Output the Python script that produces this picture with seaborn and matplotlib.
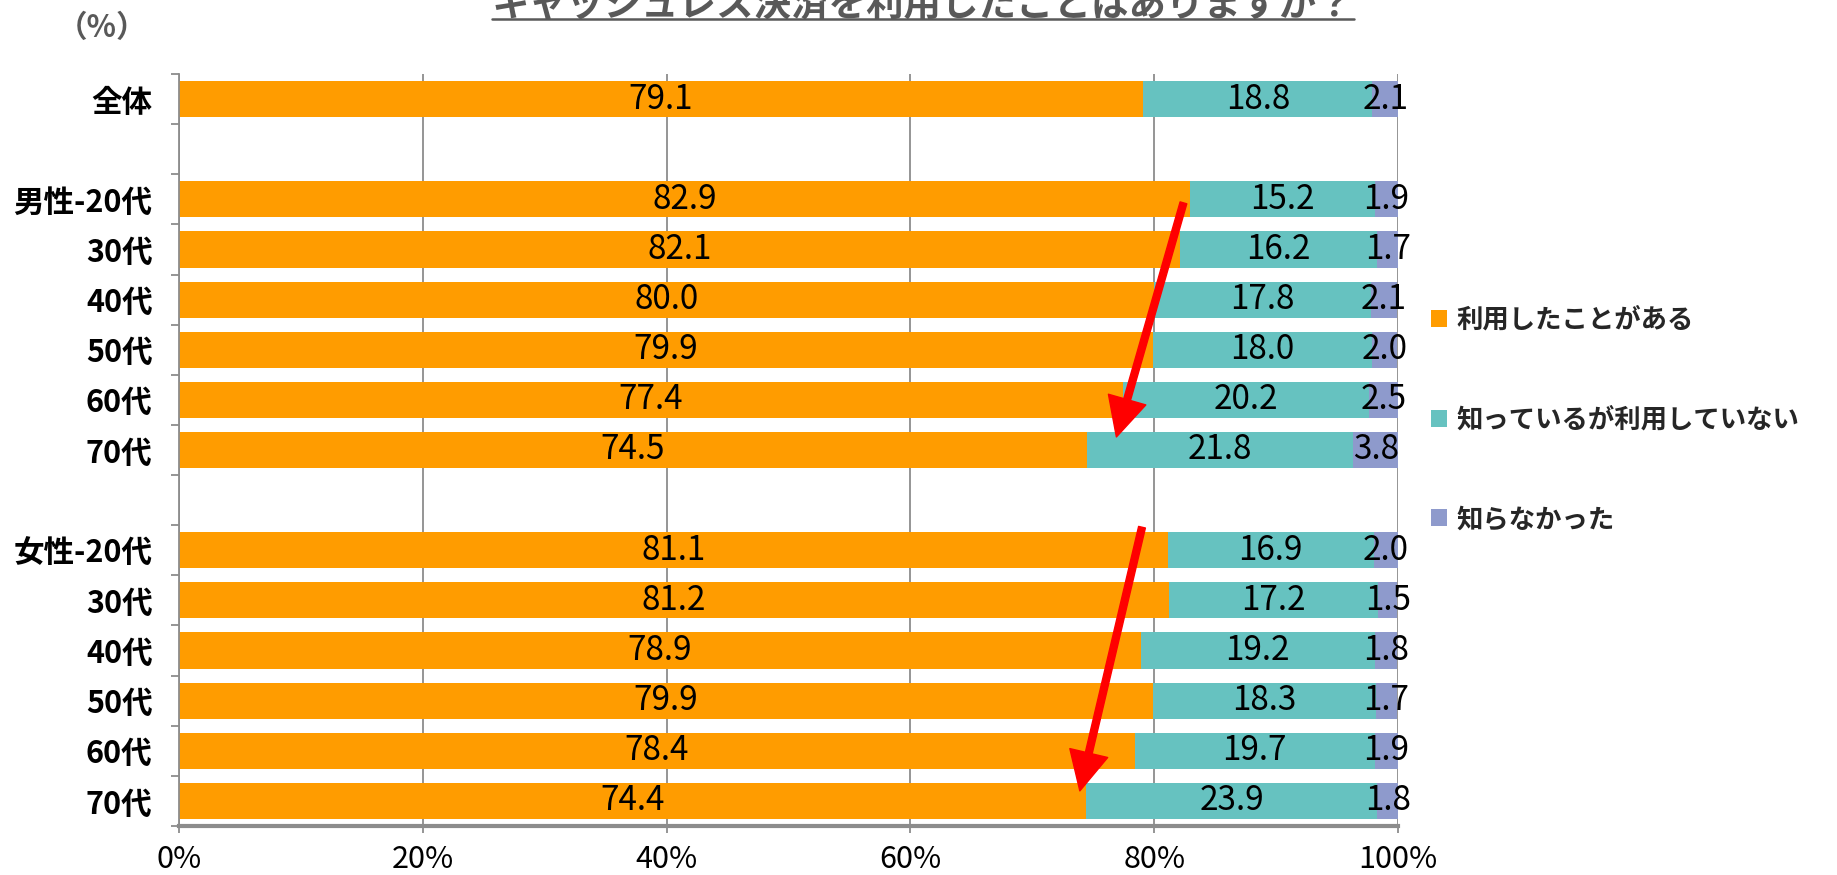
import matplotlib
matplotlib.use('Agg')
import matplotlib.pyplot as plt
import seaborn as sns
import pandas as pd
import numpy as np
from matplotlib.patches import Patch
from matplotlib.lines import Line2D

nan = np.nan
row_ids = ['all', 'gap1', 'm20', 'm30', 'm40', 'm50', 'm60', 'm70', 'gap2',
           'f20', 'f30', 'f40', 'f50', 'f60', 'f70']
row_labels = ['全体', '', '男性-20代', '30代', '40代', '50代', '60代', '70代', '',
              '女性-20代', '30代', '40代', '50代', '60代', '70代']
used = [79.1, nan, 82.9, 82.1, 80.0, 79.9, 77.4, 74.5, nan, 81.1, 81.2, 78.9, 79.9, 78.4, 74.4]
aware = [18.8, nan, 15.2, 16.2, 17.8, 18.0, 20.2, 21.8, nan, 16.9, 17.2, 19.2, 18.3, 19.7, 23.9]
unaware = [2.1, nan, 1.9, 1.7, 2.1, 2.0, 2.5, 3.8, nan, 2.0, 1.5, 1.8, 1.7, 1.9, 1.8]
series_names = ['利用したことがある', '知っているが利用していない', '知らなかった']
title_text = 'キャッシュレス決済を利用したことはありますか？'
unit_text = '（%）'
xtick_vals = [0, 20, 40, 60, 80, 100]
# annotation arrows: (start, tip) in data coords (x = %, y = row index)
arrow_specs = [((82.4, 2.07), (76.9, 6.74)), ((79.0, 8.54), (73.9, 13.8))]

colors = ['#FF9C00', '#66C2C0', '#8E9ACC']
GRAY = '#595959'
LINE = '#8C8C8C'

sns.set_theme(style='white')
NARROW = ['Liberation Sans Narrow', 'Noto Sans CJK JP', 'DejaVu Sans']
CJK = ['Noto Sans CJK JP', 'DejaVu Sans']
plt.rcParams['font.family'] = CJK

df = pd.DataFrame({'row': row_ids, 'used': used, 'aware': aware, 'unaware': unaware})
df['c1'] = df['used']
df['c2'] = df['used'] + df['aware']
df['c3'] = df['used'] + df['aware'] + df['unaware']

fig = plt.figure(figsize=(18.37, 8.75), dpi=100)
W, H = 1837, 875
ax = fig.add_axes([179 / W, 1 - 826 / H, (1398 - 179) / W, (826 - 74) / H])

for col, c in zip(['c3', 'c2', 'c1'], colors[::-1]):
    sns.barplot(data=df, y='row', x=col, order=row_ids, orient='h', color=c,
                saturation=1, width=0.72, errorbar=None, ax=ax, linewidth=0)

ax.set_xlim(0, 100)
ax.set_ylim(14.5, -0.5)
ax.set_xlabel('')
ax.set_ylabel('')
ax.set_axisbelow(True)
ax.xaxis.grid(True, color=LINE, lw=1.3)
ax.yaxis.grid(False)

ax.set_xticks(xtick_vals, [f'{v}%' for v in xtick_vals])
ax.set_yticks(range(len(row_ids)), row_labels)
ax.set_yticks(np.arange(-0.5, len(row_ids), 1), minor=True)
ax.tick_params(axis='y', which='major', length=0, pad=19)
ax.tick_params(axis='y', which='minor', length=6, width=1.3, color=LINE, left=True)
ax.tick_params(axis='x', which='major', length=5, width=1.3, color=LINE, bottom=True, pad=8)
for lab in ax.get_yticklabels():
    lab.set_family(NARROW)
    lab.set_fontsize(22)
    lab.set_fontweight('bold')
    lab.set_color('black')
for lab in ax.get_xticklabels():
    lab.set_family(NARROW)
    lab.set_fontsize(22)
    lab.set_color('black')

for s in ['top', 'right']:
    ax.spines[s].set_visible(False)
ax.spines['left'].set_color(LINE)
ax.spines['left'].set_linewidth(1.3)
ax.spines['bottom'].set_color(LINE)
ax.spines['bottom'].set_linewidth(3)

# value labels
for i, r in df.iterrows():
    if np.isnan(r['used']):
        continue
    starts = [0, r['c1'], r['c2']]
    vals = [r['used'], r['aware'], r['unaware']]
    for s0, v in zip(starts, vals):
        ax.text(s0 + v / 2, i, f'{v:.1f}', ha='center', va='center',
                fontsize=24, family=NARROW, color='black')

# arrows
for (x0, y0), (x1, y1) in arrow_specs:
    ax.annotate('', xy=(x1, y1), xytext=(x0, y0),
                arrowprops=dict(facecolor='#FF0000', edgecolor='#FF0000', width=5,
                                headwidth=28, headlength=28, shrink=0))

# legend
handles = [Patch(facecolor=c, edgecolor='none') for c in colors]
fig.legend(handles, series_names, loc='center left', bbox_to_anchor=(1431 / W, 1 - 420 / H),
           frameon=False, prop=dict(family=CJK, size=19, weight='bold'),
           handlelength=0.6, handleheight=0.6, handletextpad=0.35, labelspacing=2.75,
           borderpad=0, borderaxespad=0)

# title (cut off at top, as in the source image) with underline
t = fig.text(923 / W, 1 - 16 / H, title_text, ha='center', va='baseline', fontsize=27,
             color=GRAY, weight='bold', family=CJK)
fig.text(102 / W, 1 - 28 / H, unit_text, ha='center', va='center', fontsize=22,
         color=GRAY, weight='bold', family=CJK)

fig.canvas.draw()
bb = t.get_window_extent()
fig.add_artist(Line2D([bb.x0 / W, bb.x1 / W], [1 - 19 / H, 1 - 19 / H],
                      transform=fig.transFigure, color=GRAY, lw=1.8))

fig.savefig('out.png', dpi=100)
